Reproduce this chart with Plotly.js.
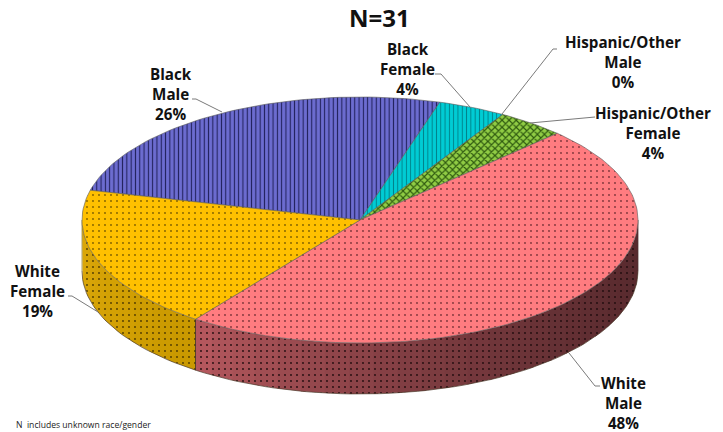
<!DOCTYPE html>
<html><head><meta charset="utf-8">
<script src="https://cdn.plot.ly/plotly-3.0.1.min.js"></script>
<style>html,body{margin:0;padding:0;background:#fff}#c{width:723px;height:432px}</style>
</head><body><div id="c"></div>
<script>
const categories=["Black Male","Black Female","Hispanic/Other Male","Hispanic/Other Female","White Male","White Female"];
const values=[26,4,0,4,48,19];
const labelTexts=["Black<br>Male<br>26%","Black<br>Female<br>4%","Hispanic/Other<br>Male<br>0%","Hispanic/Other<br>Female<br>4%","White<br>Male<br>48%","White<br>Female<br>19%"];
const labelX=[171,407,623,653,623,37];
const labelY=[94,69,62,133,403,291];
const leaderX=[[192,196,222],[435,441,470],[557,553,502],[595,530],[600,595,569],[68,72,98]];
const leaderY=[[99,99,112],[74,74,107],[49,49,114],[117,123],[386,386,353],[296,296,312]];
const faceBg=["#6c6cd0","#00ccd4","#90cc44","#90cc44","#ff7c80","#ffc000"];
const faceFg=["#20205a","#008088","#2f5a10","#2f5a10","#7a3238","#7a5c00"];
const faceShape=["|","|","x","x",".","."];
const faceSize=[4.3,4.3,5,5,6,6];
const faceSolid=[0.25,0.22,0.4,0.4,0.07,0.07];

const cx=360,cy=220,rx=278,ry=123,depth=51,startDeg=-76;
const rad=d=>d*Math.PI/180;
const px=d=>cx+rx*Math.sin(rad(d));
const py=d=>cy-ry*Math.cos(rad(d));
const total=values.reduce((a,b)=>a+b,0);
const traces=[];
let bounds=[],acc=startDeg;
values.forEach(v=>{bounds.push([acc,acc+v/total*360]);acc+=v/total*360;});

function lerp(a,b,f){return a.map((v,i)=>Math.round(v+(b[i]-v)*f));}
function wallPiece(a,b,col,fg){
  const xs=[],ys=[];
  const n=Math.max(2,Math.ceil((b-a)/2));
  for(let i=0;i<=n;i++){const d=a+(b-a)*i/n;xs.push(px(d));ys.push(py(d));}
  for(let i=n;i>=0;i--){const d=a+(b-a)*i/n;xs.push(px(d));ys.push(py(d)+depth);}
  xs.push(xs[0]);ys.push(ys[0]);
  traces.push({type:"scatter",mode:"lines",x:xs,y:ys,fill:"toself",fillcolor:col,
    fillpattern:{shape:".",bgcolor:col,fgcolor:fg,size:6,solidity:0.07,fillmode:"replace"},
    line:{color:col,width:0},hoverinfo:"skip"});
}
// front wall: white male (shaded by horizontal position), white female; pieces overlap to hide seams
const wm=bounds[4],wf=bounds[5];
const wallStart=Math.max(wm[0],90);
for(let d=wm[1]-5;d>=wallStart-5;d-=5){
  const a=Math.max(d,wallStart),b=Math.min(d+6,wm[1]);
  const f=(px((a+b)/2)-px(wm[1]))/(px(wallStart)-px(wm[1]));
  const c=lerp([186,90,96],[88,42,46],Math.min(1,Math.pow(Math.max(f,0),0.75)));
  wallPiece(a,b,`rgb(${c})`,"#1e0a0c");
}
for(let d=wf[0];d<270;d+=6){
  const e=Math.min(d+7,270);
  const f=(d-wf[0])/(270-wf[0]);
  const c=lerp([202,153,0],[222,170,10],f);
  wallPiece(d,e,`rgb(${c})`,"#4a3700");
}
// wall edges
function edge(xs,ys,col,w){traces.push({type:"scatter",mode:"lines",x:xs,y:ys,line:{color:col,width:w},hoverinfo:"skip"});}
{const xs=[],ys=[];for(let d=90;d<=270;d+=2){xs.push(px(d));ys.push(py(d)+depth);}edge(xs,ys,"#4a3a2a",0.7);}
edge([px(wm[1]),px(wm[1])],[py(wm[1]),py(wm[1])+depth],"#3a2a20",0.8);
edge([px(270),px(270)],[py(270),py(270)+depth],"#8a7a30",0.7);
edge([px(90),px(90)],[py(90),py(90)+depth],"#3a1c1e",0.7);

// top face
values.forEach((v,i)=>{
  if(v===0)return;
  const [a,b]=bounds[i];
  const xs=[cx],ys=[cy];
  const n=Math.ceil((b-a)/1.5);
  for(let k=0;k<=n;k++){const d=a+(b-a)*k/n;xs.push(px(d));ys.push(py(d));}
  xs.push(cx);ys.push(cy);
  traces.push({type:"scatter",mode:"lines",x:xs,y:ys,fill:"toself",fillcolor:faceBg[i],name:categories[i],
    fillpattern:{shape:faceShape[i],bgcolor:faceBg[i],fgcolor:faceFg[i],size:faceSize[i],solidity:faceSolid[i],fillmode:"replace"},
    line:{color:"#5a5a5a",width:0.6},hoverinfo:"skip"});
});
// leader lines
leaderX.forEach((lx,i)=>edge(lx,leaderY[i],"#7a7a7a",1));

const annotations=labelTexts.map((t,i)=>({x:labelX[i],y:labelY[i],xref:"x",yref:"y",text:"<b>"+t.split("<br>").join("</b><br><b>")+"</b>",showarrow:false,
  xanchor:"center",yanchor:"middle",align:"center",font:{family:"Open Sans, sans-serif",size:15.2,color:"#111"}}));
annotations.push({x:379,y:17,xref:"x",yref:"y",text:"<b>N=31</b>",showarrow:false,xanchor:"center",yanchor:"middle",
  font:{family:"Open Sans, sans-serif",size:24,color:"#111"}});
annotations.push({x:14,y:425,xref:"x",yref:"y",text:"N  includes unknown race/gender",showarrow:false,xanchor:"left",yanchor:"middle",
  font:{family:"Open Sans, sans-serif",size:8.6,color:"#222"}});

Plotly.newPlot("c",traces,{
  width:723,height:432,margin:{l:0,r:0,t:0,b:0},showlegend:false,
  paper_bgcolor:"#fff",plot_bgcolor:"#fff",
  xaxis:{range:[0,723],visible:false,fixedrange:true},
  yaxis:{range:[432,0],visible:false,fixedrange:true},
  annotations
},{displayModeBar:false,staticPlot:true});
</script></body></html>
